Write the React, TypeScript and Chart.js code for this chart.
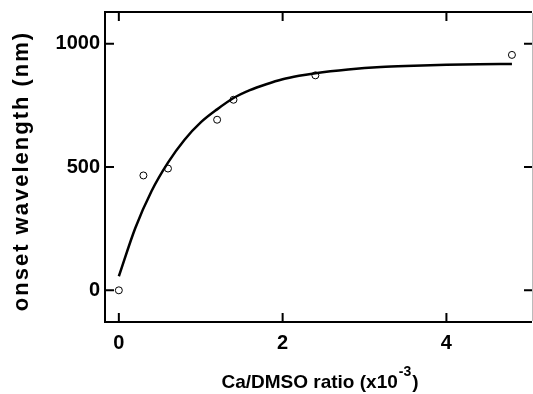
import React, { useEffect, useRef } from "react";
import { Chart, registerables } from "chart.js";

Chart.register(...registerables);

// Measured data points (Ca/DMSO ratio x10^-3, onset wavelength nm)
const ratio = [0, 0.3, 0.6, 1.2, 1.4, 2.4, 4.8];
const onset = [0, 466, 494, 692, 773, 872, 955];

// Fitted curve
const fitX = [0, 0.2, 0.4, 0.6, 0.8, 1.0, 1.2, 1.4, 1.6, 1.8, 2.0, 2.2, 2.4, 2.8, 3.2, 3.6, 4.0, 4.4, 4.8];
const fitY = [57, 252, 403, 518, 610, 681, 734, 780, 812, 836, 856, 870, 881, 896, 906, 911, 915, 917, 918];

const xTickValues = [0, 2, 4];
const yTickValues = [0, 500, 1000];

const xTitleMain = "Ca/DMSO ratio (x10";
const xTitleSup = "-3";
const xTitleEnd = ")";
const yTitle = "onset wavelength (nm)";

const FONT = "'Liberation Sans', Arial, sans-serif";

const zeroPad = (s: any) => {
  s.paddingTop = 0;
  s.paddingBottom = 0;
  s.paddingLeft = 0;
  s.paddingRight = 0;
};

const framePlugin = {
  id: "frame",
  afterDraw(chart: any) {
    const { ctx, chartArea } = chart;
    const xs = chart.scales.x;
    const ys = chart.scales.y;
    const { left, right, top, bottom } = chartArea;
    ctx.save();
    ctx.strokeStyle = "#000";
    ctx.lineWidth = 2;
    ctx.lineCap = "butt";
    ctx.beginPath();
    ctx.moveTo(left, top);
    ctx.lineTo(right, top);
    ctx.moveTo(left, top - 1);
    ctx.lineTo(left, bottom + 1);
    ctx.moveTo(left - 1, bottom);
    ctx.lineTo(right, bottom);
    ctx.stroke();
    ctx.strokeStyle = "#bbb";
    ctx.lineWidth = 1;
    ctx.beginPath();
    ctx.moveTo(right + 0.5, top + 1);
    ctx.lineTo(right + 0.5, bottom - 1);
    ctx.stroke();

    ctx.strokeStyle = "#000";
    ctx.lineWidth = 2;
    ctx.beginPath();
    const tl = 9;
    for (const v of xTickValues) {
      const px = xs.getPixelForValue(v);
      ctx.moveTo(px, bottom);
      ctx.lineTo(px, bottom - tl);
      ctx.moveTo(px, top);
      ctx.lineTo(px, top + tl);
    }
    for (const v of yTickValues) {
      const py = ys.getPixelForValue(v);
      ctx.moveTo(left, py);
      ctx.lineTo(left + tl, py);
      ctx.moveTo(right, py);
      ctx.lineTo(right - tl + 1, py);
    }
    ctx.stroke();

    // x title with superscript
    ctx.fillStyle = "#000";
    ctx.textBaseline = "alphabetic";
    ctx.textAlign = "left";
    ctx.font = `bold 19px ${FONT}`;
    const w1 = ctx.measureText(xTitleMain).width;
    const w3 = ctx.measureText(xTitleEnd).width;
    ctx.font = `bold 14px ${FONT}`;
    const w2 = ctx.measureText(xTitleSup).width;
    const total = w1 + w2 + w3 + 2;
    const cx = 320;
    const x0 = cx - total / 2;
    const base = 388;
    ctx.font = `bold 19px ${FONT}`;
    ctx.fillText(xTitleMain, x0, base);
    ctx.font = `bold 14px ${FONT}`;
    ctx.fillText(xTitleSup, x0 + w1 + 1, base - 12);
    ctx.font = `bold 19px ${FONT}`;
    ctx.fillText(xTitleEnd, x0 + w1 + w2 + 2, base);

    // y title
    ctx.save();
    ctx.translate(28, 171);
    ctx.rotate(-Math.PI / 2);
    ctx.font = `bold 22px ${FONT}`;
    (ctx as any).letterSpacing = "2px";
    ctx.textAlign = "center";
    ctx.textBaseline = "alphabetic";
    ctx.fillText(yTitle, 0, 0);
    ctx.restore();
    ctx.restore();
  },
};

export default function App() {
  const ref = useRef<HTMLCanvasElement | null>(null);
  useEffect(() => {
    if (!ref.current) return;
    const chart = new Chart(ref.current, {
      type: "scatter",
      data: {
        datasets: [
          {
            label: "fit",
            data: fitX.map((x, i) => ({ x, y: fitY[i] })),
            showLine: true,
            borderColor: "#000",
            borderWidth: 2.5,
            pointRadius: 0,
            cubicInterpolationMode: "monotone",
            fill: false,
          },
          {
            label: "data",
            data: ratio.map((x, i) => ({ x, y: onset[i] })),
            showLine: false,
            pointStyle: "circle",
            pointRadius: 3.5,
            pointBorderWidth: 1,
            pointBorderColor: "#000",
            pointBackgroundColor: "rgba(255,255,255,0)",
          },
        ],
      },
      options: {
        animation: false,
        responsive: false,
        devicePixelRatio: 1,
        layout: { autoPadding: false, padding: { left: 0, right: 1, top: 12, bottom: 0 } },
        plugins: { legend: { display: false }, tooltip: { enabled: false } },
        scales: {
          x: {
            type: "linear",
            min: -0.169,
            max: 5.045,
            border: { display: false },
            grid: { display: false, drawTicks: false },
            afterBuildTicks: (s: any) => {
              s.ticks = xTickValues.map((v) => ({ value: v }));
            },
            afterFit: (s: any) => {
              s.height = 72;
              zeroPad(s);
            },
            ticks: {
              color: "#000",
              padding: 9,
              font: { family: FONT, size: 20, weight: "bold" },
              maxRotation: 0,
              callback: (v: any) => String(v),
            },
          },
          y: {
            type: "linear",
            min: -128.5,
            max: 1129,
            border: { display: false },
            grid: { display: false, drawTicks: false },
            afterBuildTicks: (s: any) => {
              s.ticks = yTickValues.map((v) => ({ value: v }));
            },
            afterFit: (s: any) => {
              s.width = 105;
              zeroPad(s);
            },
            ticks: {
              color: "#000",
              padding: 5,
              font: { family: FONT, size: 20, weight: "bold" },
              callback: (v: any) => String(v),
            },
          },
        },
      },
      plugins: [framePlugin],
    });
    return () => chart.destroy();
  }, []);
  return (
    <div style={{ position: "fixed", left: 0, top: 0, width: 533, height: 394, background: "#fff" }}>
      <canvas ref={ref} width={533} height={394} />
    </div>
  );
}
